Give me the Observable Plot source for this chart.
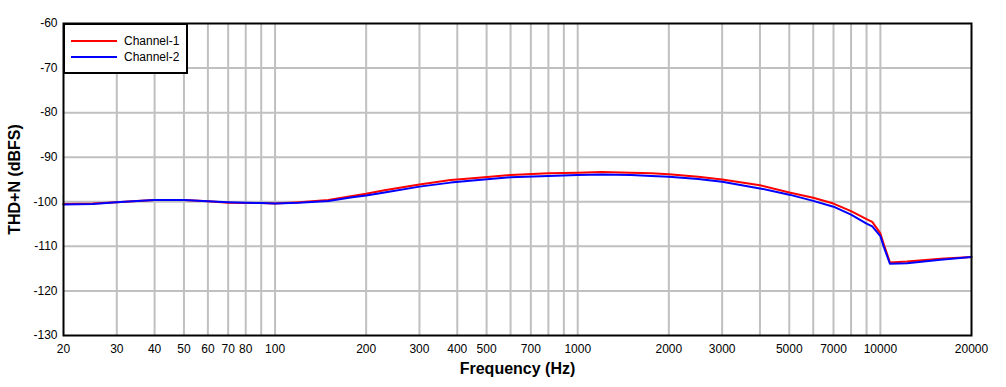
<!DOCTYPE html>
<html>
<head>
<meta charset="utf-8">
<script src="https://cdn.jsdelivr.net/npm/d3@7"></script>
<script src="https://cdn.jsdelivr.net/npm/@observablehq/plot@0.6"></script>
<style>
  html, body { margin: 0; padding: 0; background: #fff; }
  #wrap { position: relative; width: 1006px; height: 387px; }
  svg { font-family: "Liberation Sans", Arial, sans-serif; }
  g[aria-label="x-axis label"] text, g[aria-label="y-axis label"] text { font-weight: bold; font-size: 16px; }
  #legend { position: absolute; left: 63px; top: 23px; width: 121px; height: 47px; border: 2px solid #000; background: #fff;
    font-family: "Liberation Sans", Arial, sans-serif; font-size: 12px; }
  .item { position: absolute; left: 6px; height: 16px; display: flex; align-items: center; }
  .sw { width: 46px; height: 2px; margin-right: 7px; }
</style>
</head>
<body>
<div id="wrap">
  <div id="chart"></div>
  <div id="legend"></div>
</div>
<script>
const freqs = [20, 25, 30, 35, 40, 50, 60, 70, 80, 90, 100, 120, 150, 180, 200, 230, 300, 380, 450, 600, 800, 1000, 1200, 1500, 1750, 2000, 2500, 3000, 4000, 5000, 6000, 7000, 8000, 9000, 9400, 10000, 10250, 10750, 12250, 15800, 20000];
const channel1 = [-100.5, -100.4, -100.1, -99.8, -99.6, -99.6, -99.9, -100.2, -100.3, -100.3, -100.4, -100.1, -99.6, -98.7, -98.2, -97.4, -96.1, -95.1, -94.7, -94.0, -93.6, -93.5, -93.3, -93.5, -93.6, -93.8, -94.4, -95.0, -96.3, -97.9, -99.1, -100.4, -102.1, -103.9, -104.5, -107.1, -109.4, -113.6, -113.4, -112.8, -112.4];
const channel2 = [-100.6, -100.5, -100.1, -99.8, -99.6, -99.6, -99.9, -100.1, -100.2, -100.3, -100.4, -100.2, -99.8, -99.0, -98.6, -97.9, -96.6, -95.7, -95.2, -94.5, -94.2, -94.0, -93.9, -94.0, -94.2, -94.4, -94.9, -95.5, -97.0, -98.4, -99.8, -101.1, -102.9, -104.9, -105.5, -107.7, -110.0, -113.9, -113.8, -113.0, -112.4];
const seriesNames = ["Channel-1", "Channel-2"];
const seriesColors = ["#ff0000", "#0000ff"];
const xTickLabels = [20, 30, 40, 50, 60, 70, 80, 100, 200, 300, 400, 500, 700, 1000, 2000, 3000, 5000, 7000, 10000, 20000];
const xGrid = [30, 40, 50, 60, 70, 80, 90, 100, 200, 300, 400, 500, 600, 700, 800, 900, 1000, 2000, 3000, 4000, 5000, 6000, 7000, 8000, 9000, 10000];
const yTicks = [-130, -120, -110, -100, -90, -80, -70, -60];
const yGrid = [-120, -110, -100, -90, -80, -70];

const data = [];
seriesNames.forEach((name, s) => {
  const vals = s === 0 ? channel1 : channel2;
  freqs.forEach((f, i) => data.push({ f, v: vals[i], series: name }));
});

const chart = Plot.plot({
  width: 1006,
  height: 387,
  marginLeft: 63,
  marginRight: 35,
  marginTop: 23,
  marginBottom: 52,
  style: { fontFamily: "Liberation Sans, Arial, sans-serif", fontSize: "12px", background: "#fff" },
  x: { type: "log", domain: [20, 20000] },
  y: { domain: [-130, -60] },
  color: { domain: seriesNames, range: seriesColors },
  marks: [
    Plot.ruleX(xGrid, { stroke: "#c0c0c0", strokeWidth: 2 }),
    Plot.ruleY(yGrid, { stroke: "#c0c0c0", strokeWidth: 2 }),
    Plot.line(data, { x: "f", y: "v", z: "series", stroke: "series", strokeWidth: 2 }),
    Plot.frame({ stroke: "#000", strokeWidth: 2 }),
    Plot.text(xTickLabels, { x: d => d, text: d => String(d), frameAnchor: "bottom", dy: 17, fontSize: 12, fill: "#000" }),
    Plot.axisX({ ticks: [], tickSize: 0,
      label: "Frequency (Hz)", labelAnchor: "center", labelArrow: "none", labelOffset: 38 }),
    Plot.axisY({ ticks: yTicks, tickFormat: d => String(d), tickSize: 0, tickPadding: 6, fontSize: 12, fill: "#000",
      label: "THD+N (dBFS)", labelAnchor: "center", labelArrow: "none", labelOffset: 55 })
  ]
});
document.getElementById("chart").appendChild(chart);

const legend = document.getElementById("legend");
seriesNames.forEach((name, i) => {
  const it = document.createElement("div");
  it.className = "item";
  it.style.top = (8 + i * 16) + "px";
  const sw = document.createElement("div");
  sw.className = "sw";
  sw.style.background = seriesColors[i];
  const t = document.createElement("span");
  t.textContent = name;
  it.appendChild(sw); it.appendChild(t);
  legend.appendChild(it);
});
</script>
</body>
</html>
